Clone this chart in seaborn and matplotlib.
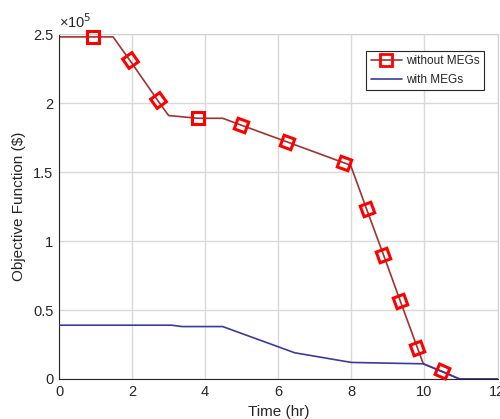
import numpy as np
import pandas as pd
import seaborn as sns
import matplotlib.pyplot as plt
from matplotlib.lines import Line2D

# line vertices (y in units of 1e5 $)
time_without = [0, 0.93, 1.48, 1.94, 2.70, 3.0, 3.8, 4.48, 4.97, 6.23, 7.79, 7.98,
                8.42, 8.88, 9.34, 9.81, 9.97, 10.49, 10.96, 12]
cost_without = [2.48, 2.48, 2.48, 2.31, 2.02, 1.91, 1.89, 1.89, 1.842, 1.72, 1.568, 1.55,
                1.23, 0.90, 0.565, 0.225, 0.11, 0.055, 0.0, 0.0]
marker_idx = [1, 3, 4, 6, 8, 9, 10, 12, 13, 14, 15, 17]

time_with = [0, 3.08, 3.37, 4.48, 6.45, 8.0, 9.97, 10.96, 12]
cost_with = [0.39, 0.39, 0.38, 0.38, 0.19, 0.12, 0.11, 0.0, 0.0]

red_line = "#a03232"
blue_line = "#3a3aa0"

sns.set_style("white")
plt.rcParams['font.family'] = ['Liberation Sans', 'DejaVu Sans']

fig = plt.figure(figsize=(5.0, 4.19), dpi=100)
ax = fig.add_axes([0.118, 0.0955, 0.877, 0.823])

df_wo = pd.DataFrame({"t": time_without, "c": cost_without})
df_w = pd.DataFrame({"t": time_with, "c": cost_with})
sns.lineplot(data=df_wo, x="t", y="c", sort=False, estimator=None, color=red_line, lw=1.2, ax=ax)
sns.lineplot(data=df_w, x="t", y="c", sort=False, estimator=None, color=blue_line, lw=1.2, ax=ax, zorder=3)

ax.set_xlim(0, 12)
ax.set_ylim(0, 2.5)
fig.canvas.draw()

# squares turned along the line direction
pts = ax.transData.transform(np.column_stack([time_without, cost_without]))
for i in marker_idx:
    j = i + 1 if i + 1 < len(pts) else i - 1
    d = pts[j] - pts[i] if j > i else pts[i] - pts[j]
    ang = np.degrees(np.arctan2(d[1], d[0]))
    ax.plot(time_without[i], cost_without[i], marker=(4, 0, 45 + ang), ms=11.5,
            mfc="none", mec="#ff0000", mew=2.2, ls="none", zorder=4, clip_on=False)

ax.set_xticks([0, 2, 4, 6, 8, 10, 12])
ax.set_yticks([0, 0.5, 1, 1.5, 2, 2.5])
ax.set_yticklabels(["0", "0.5", "1", "1.5", "2", "2.5"])
ax.tick_params(direction="in", length=4, labelsize=10.5, colors="#262626", pad=4)
ax.grid(True, color="#d9d9d9", lw=1)
for s in ["left", "bottom"]:
    ax.spines[s].set_color("#262626")
for s in ["top", "right"]:
    ax.spines[s].set_color("#cfcfcf")
ax.set_xlabel("Time (hr)", fontsize=11, labelpad=5)
ax.set_ylabel("Objective Function (\\$)", fontsize=11, labelpad=5)
ax.text(0.0, 1.008, "×10$^5$", transform=ax.transAxes, fontsize=10.5, va="bottom", ha="left")

handles = [Line2D([], [], color=red_line, lw=1.2, marker="s", ms=8, mfc="none",
                  mec="#ff0000", mew=2),
           Line2D([], [], color=blue_line, lw=1.2)]
leg = ax.legend(handles, ["without MEGs", "with MEGs"], loc="upper right",
                bbox_to_anchor=(0.982, 0.968), fontsize=8.5, fancybox=False,
                framealpha=1, edgecolor="#262626", handlelength=2.7,
                handletextpad=0.3, borderpad=0.35, labelspacing=0.55)
leg.get_frame().set_linewidth(0.8)

fig.savefig("out.png", dpi=100)
